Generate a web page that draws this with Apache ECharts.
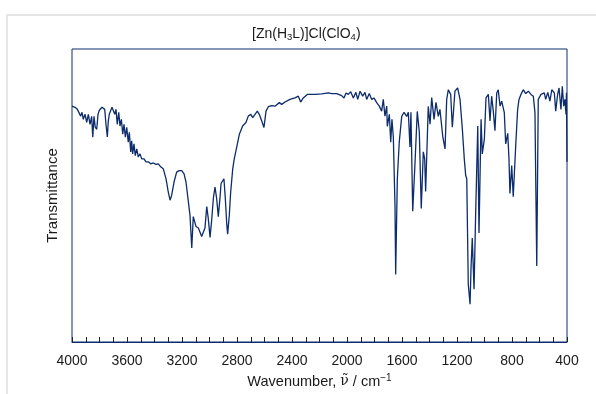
<!DOCTYPE html>
<html>
<head>
<meta charset="utf-8">
<script src="https://cdn.jsdelivr.net/npm/echarts@6/dist/echarts.min.js"></script>
<style>
  html, body { margin: 0; padding: 0; background: #fff; }
  #main { width: 596px; height: 394px; }
</style>
</head>
<body>
<div id="main"></div>
<script>
// IR spectrum (wavenumber in cm-1, transmittance in arbitrary %)
const wavenumbers = [
  4000, 3978, 3961, 3947, 3937, 3927, 3918, 3905, 3893, 3881, 3869, 3857, 3849, 3840, 3831, 3820,
  3811, 3801, 3791, 3782, 3772, 3762, 3753, 3743, 3736, 3729, 3719, 3709, 3700, 3689, 3680, 3671,
  3660, 3651, 3641, 3631, 3622, 3612, 3602, 3591, 3583, 3573, 3566, 3559, 3549, 3540, 3529, 3518,
  3505, 3493, 3476, 3462, 3445, 3428, 3409, 3389, 3372, 3355, 3336, 3316, 3300, 3287, 3275, 3258,
  3239, 3220, 3202, 3185, 3171, 3159, 3142, 3129, 3118, 3098, 3081, 3069, 3057, 3045, 3033, 3020,
  3009, 2996, 2984, 2972, 2960, 2948, 2936, 2924, 2916, 2904, 2895, 2885, 2875, 2868, 2856, 2846,
  2831, 2820, 2802, 2783, 2759, 2735, 2718, 2700, 2686, 2669, 2652, 2638, 2620, 2604, 2589, 2572,
  2548, 2524, 2492, 2475, 2451, 2415, 2378, 2366, 2354, 2337, 2318, 2289, 2233, 2184, 2136, 2111,
  2075, 2039, 2022, 2007, 1991, 1973, 1954, 1935, 1922, 1905, 1886, 1869, 1857, 1838, 1820, 1804,
  1784, 1765, 1748, 1736, 1724, 1711, 1707, 1692, 1682, 1673, 1663, 1651, 1646, 1634, 1620, 1602,
  1585, 1566, 1554, 1542, 1535, 1522, 1505, 1489, 1474, 1460, 1445, 1435, 1428, 1409, 1396, 1384,
  1367, 1353, 1336, 1324, 1304, 1287, 1275, 1263, 1246, 1234, 1215, 1195, 1178, 1161, 1147, 1137,
  1129, 1118, 1105, 1098, 1089, 1076, 1064, 1049, 1040, 1025, 1016, 1001, 989, 972, 960, 948,
  936, 924, 911, 900, 887, 875, 856, 846, 831, 822, 815, 802, 791, 783, 773, 759,
  749, 735, 718, 700, 681, 662, 645, 633, 620, 609, 589, 565, 555, 540, 524, 511,
  492, 482, 468, 458, 444, 434, 424, 415, 407, 404, 400
]
const transmittance = [
  80.5, 80.1, 79.4, 78.8, 77.1, 78.4, 76.0, 77.7, 75.0, 77.7, 74.3, 77.0, 69.9, 77.0, 73.3, 72.6,
  77.7, 79.1, 79.4, 80.1, 80.5, 79.4, 74.3, 70.0, 75.4, 77.7, 77.1, 80.1, 80.5, 77.7, 79.4, 74.3,
  78.4, 73.7, 76.0, 70.9, 74.3, 69.9, 73.3, 68.2, 71.6, 64.9, 68.7, 64.2, 67.6, 63.6, 65.9, 63.2,
  64.2, 62.5, 62.5, 61.5, 61.5, 60.8, 61.1, 60.6, 60.8, 59.8, 59.1, 55.7, 51.2, 48.4, 50.1, 54.6,
  58.0, 58.5, 58.5, 57.4, 54.6, 54.1, 43.3, 32.1, 42.8, 39.4, 38.9, 38.9, 36.0, 35.5, 38.9, 46.2,
  42.2, 35.7, 41.7, 49.0, 52.9, 49.0, 42.8, 49.0, 54.1, 53.5, 55.7, 49.0, 40.5, 36.8, 43.3, 51.2,
  59.1, 62.5, 66.5, 70.9, 73.7, 74.9, 77.1, 77.7, 76.6, 77.7, 78.8, 77.7, 75.4, 73.2, 78.8, 80.3,
  80.7, 80.5, 81.7, 81.1, 81.9, 82.8, 83.3, 82.8, 83.9, 81.9, 83.3, 84.5, 84.5, 84.7, 85.0, 84.8,
  84.8, 84.1, 83.3, 85.0, 84.5, 85.4, 83.3, 85.2, 82.8, 85.6, 83.9, 85.2, 82.8, 84.8, 82.8, 83.3,
  81.7, 80.5, 78.8, 82.8, 77.1, 80.5, 73.6, 77.7, 68.2, 76.0, 69.9, 46.6, 23.0, 55.7, 68.2, 77.0,
  78.4, 77.0, 78.4, 66.6, 78.4, 44.6, 61.5, 78.7, 71.6, 45.6, 64.9, 62.5, 51.4, 80.4, 74.3, 83.4,
  76.0, 81.8, 77.0, 79.4, 70.3, 65.9, 82.8, 86.1, 84.5, 73.3, 85.6, 86.7, 82.8, 72.6, 62.5, 56.9,
  55.7, 19.7, 12.9, 25.3, 35.5, 18.0, 44.5, 73.7, 37.2, 76.0, 64.2, 69.3, 83.3, 84.5, 75.4, 83.9,
  78.8, 72.1, 85.0, 86.1, 80.5, 82.2, 78.3, 67.6, 71.2, 62.5, 50.7, 60.2, 49.6, 49.0, 67.0, 79.4,
  82.8, 84.5, 86.1, 84.8, 85.6, 84.5, 83.9, 78.3, 25.9, 82.8, 84.5, 85.0, 82.8, 85.2, 82.2, 86.1,
  85.0, 78.8, 84.5, 86.7, 79.4, 87.3, 80.5, 82.8, 77.7, 85.1, 61.5
]
const xTicks = [4000, 3600, 3200, 2800, 2400, 2000, 1600, 1200, 800, 400]

const navy = '#0c2c6c'
const font = 'Liberation Sans, Arial, Helvetica, sans-serif'

var chartDom = document.getElementById('main')
var myChart = echarts.init(chartDom)
var option = {
  backgroundColor: '#fff',
  animation: false,
  graphic: [
    {
      type: 'rect',
      silent: true,
      shape: { x: 7, y: 15, width: 700, height: 500 },
      style: { fill: 'none', stroke: '#e6e6e6', lineWidth: 2 }
    }
  ],
  title: {
    text: '[Zn(H{sub|3}L)]Cl(ClO{sub|4})',
    left: 247,
    top: 22,
    textStyle: {
      fontFamily: font,
      fontSize: 14,
      fontWeight: 'normal',
      color: '#1a1a1a',
      rich: {
        sub: { fontFamily: font, fontSize: 9.5, color: '#1a1a1a', verticalAlign: 'bottom', padding: [5, 0, 0, 0] }
      }
    }
  },
  grid: {
    left: 72,
    right: 29,
    top: 49,
    bottom: 49,
    show: true,
    borderColor: navy,
    borderWidth: 1
  },
  xAxis: {
    type: 'value',
    min: 400,
    max: 4000,
    interval: 100,
    inverse: true,
    name: 'Wavenumber, {nu|ν̃} / cm{sup|−1}',
    nameLocation: 'middle',
    nameGap: 31,
    nameTextStyle: {
      fontFamily: font,
      fontSize: 14.5,
      color: '#1a1a1a',
      rich: {
        nu: { fontFamily: 'DejaVu Serif, serif', fontSize: 14, color: '#1a1a1a' },
        sup: { fontFamily: font, fontSize: 10, color: '#1a1a1a', verticalAlign: 'top', padding: [0, 0, 7, 0] }
      }
    },
    axisLine: { show: true, lineStyle: { color: navy, width: 1 } },
    axisTick: { show: true, inside: true, length: 5, lineStyle: { color: '#222' } },
    axisLabel: {
      fontFamily: font,
      fontSize: 14,
      color: '#1a1a1a',
      margin: 12,
      formatter: function (v) {
        return xTicks.indexOf(v) >= 0 ? String(v) : ''
      }
    },
    splitLine: { show: false }
  },
  yAxis: {
    type: 'value',
    min: 0,
    max: 100,
    name: 'Transmittance',
    nameLocation: 'middle',
    nameGap: 12,
    nameTextStyle: { fontFamily: font, fontSize: 15, color: '#1a1a1a' },
    axisLine: { show: false },
    axisTick: { show: false },
    axisLabel: { show: false },
    splitLine: { show: false }
  },
  series: [
    {
      name: 'IR',
      type: 'line',
      symbol: 'none',
      smooth: false,
      lineStyle: { color: navy, width: 1.3 },
      data: wavenumbers.map(function (w, i) {
        return [w, transmittance[i]]
      })
    }
  ]
}
option && myChart.setOption(option)
</script>
</body>
</html>
